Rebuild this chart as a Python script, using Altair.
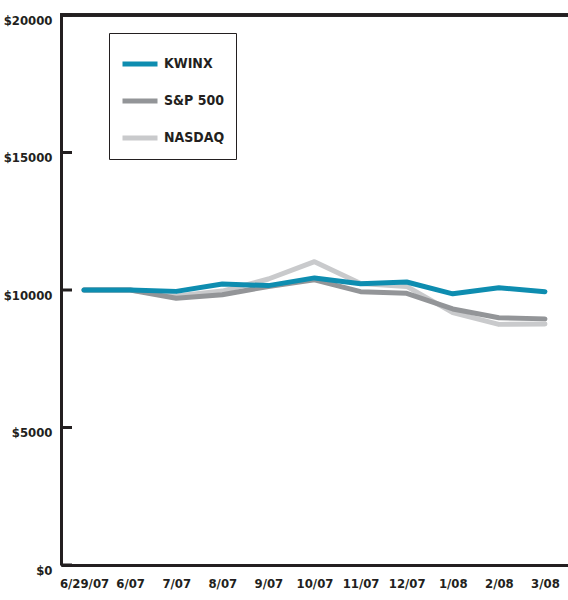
import altair as alt
import pandas as pd

dates = ["6/29/07", "6/07", "7/07", "8/07", "9/07", "10/07", "11/07", "12/07", "1/08", "2/08", "3/08"]
kwinx = [10000, 10000, 9950, 10220, 10160, 10440, 10230, 10290, 9860, 10080, 9940]
sp500 = [10000, 10000, 9700, 9830, 10130, 10370, 9940, 9880, 9310, 8990, 8950]
nasdaq = [10000, 10000, 9780, 9960, 10400, 11030, 10240, 10130, 9180, 8750, 8760]
series_names = ["KWINX", "S&P 500", "NASDAQ"]
colors = ["#0e8db0", "#939598", "#c9cacc"]
y_ticks = [0, 5000, 10000, 15000, 20000]

rows = []
for name, vals in zip(series_names, [kwinx, sp500, nasdaq]):
    for d, v in zip(dates, vals):
        rows.append({"date": d, "value": v, "series": name})
df = pd.DataFrame(rows)
ticks_df = pd.DataFrame({"v": y_ticks})

FONT = "'DejaVu Sans Condensed', 'Liberation Sans', sans-serif"
W, H = 507, 550

xenc = alt.X("date:O", sort=dates, scale=alt.Scale(type="point", padding=0.5),
             axis=alt.Axis(title=None, labelAngle=0, ticks=False, domainWidth=3,
                           domainColor="#231f20", labelPadding=12, labelFontSize=13,
                           labelFont=FONT, labelFontWeight="bold", labelColor="#231f20"))
yscale = alt.Scale(domain=[0, 20000], nice=False, zero=True)
yenc = alt.Y("value:Q", scale=yscale,
             axis=alt.Axis(title=None, values=y_ticks, labelExpr="'$' + datum.value",
                           ticks=False, domainWidth=3, domainColor="#231f20", grid=False,
                           labelPadding=9, labelFontSize=13, labelFont=FONT,
                           labelFontWeight="bold", labelColor="#231f20", labelOffset=5))
color = alt.Color("series:N", scale=alt.Scale(domain=series_names, range=colors),
                  legend=alt.Legend(title=None, orient="none", legendX=48, legendY=18,
                                    symbolType="stroke", symbolSize=1225, symbolStrokeWidth=5,
                                    labelFont=FONT, labelFontSize=14, labelFontWeight="bold",
                                    labelColor="#231f20", labelOffset=4, rowPadding=7,
                                    padding=11, strokeColor="#231f20", fillColor="white",
                                    cornerRadius=0))

layers = []
for name in ["NASDAQ", "S&P 500", "KWINX"]:
    layers.append(
        alt.Chart(df).transform_filter(alt.datum.series == name)
        .mark_line(strokeWidth=5, strokeCap="round", strokeJoin="round")
        .encode(x=xenc, y=yenc, color=color)
    )

tick_marks = alt.Chart(ticks_df).mark_rule(color="#231f20", strokeWidth=3).encode(
    y=alt.Y("v:Q", scale=yscale), x=alt.value(0), x2=alt.value(11))
top_line = alt.Chart(ticks_df).mark_rule(color="#231f20", strokeWidth=3).encode(
    y=alt.value(0), x=alt.value(-1), x2=alt.value(W))

chart = alt.layer(tick_marks, top_line, *layers).properties(
    width=W, height=H, autosize=alt.AutoSizeParams(type="none"),
    padding={"left": 61, "top": 15, "right": 0, "bottom": 35}
).configure_view(stroke=None).configure(background="white")

chart.save("out.html", embed_options={"renderer": "svg", "actions": False})
